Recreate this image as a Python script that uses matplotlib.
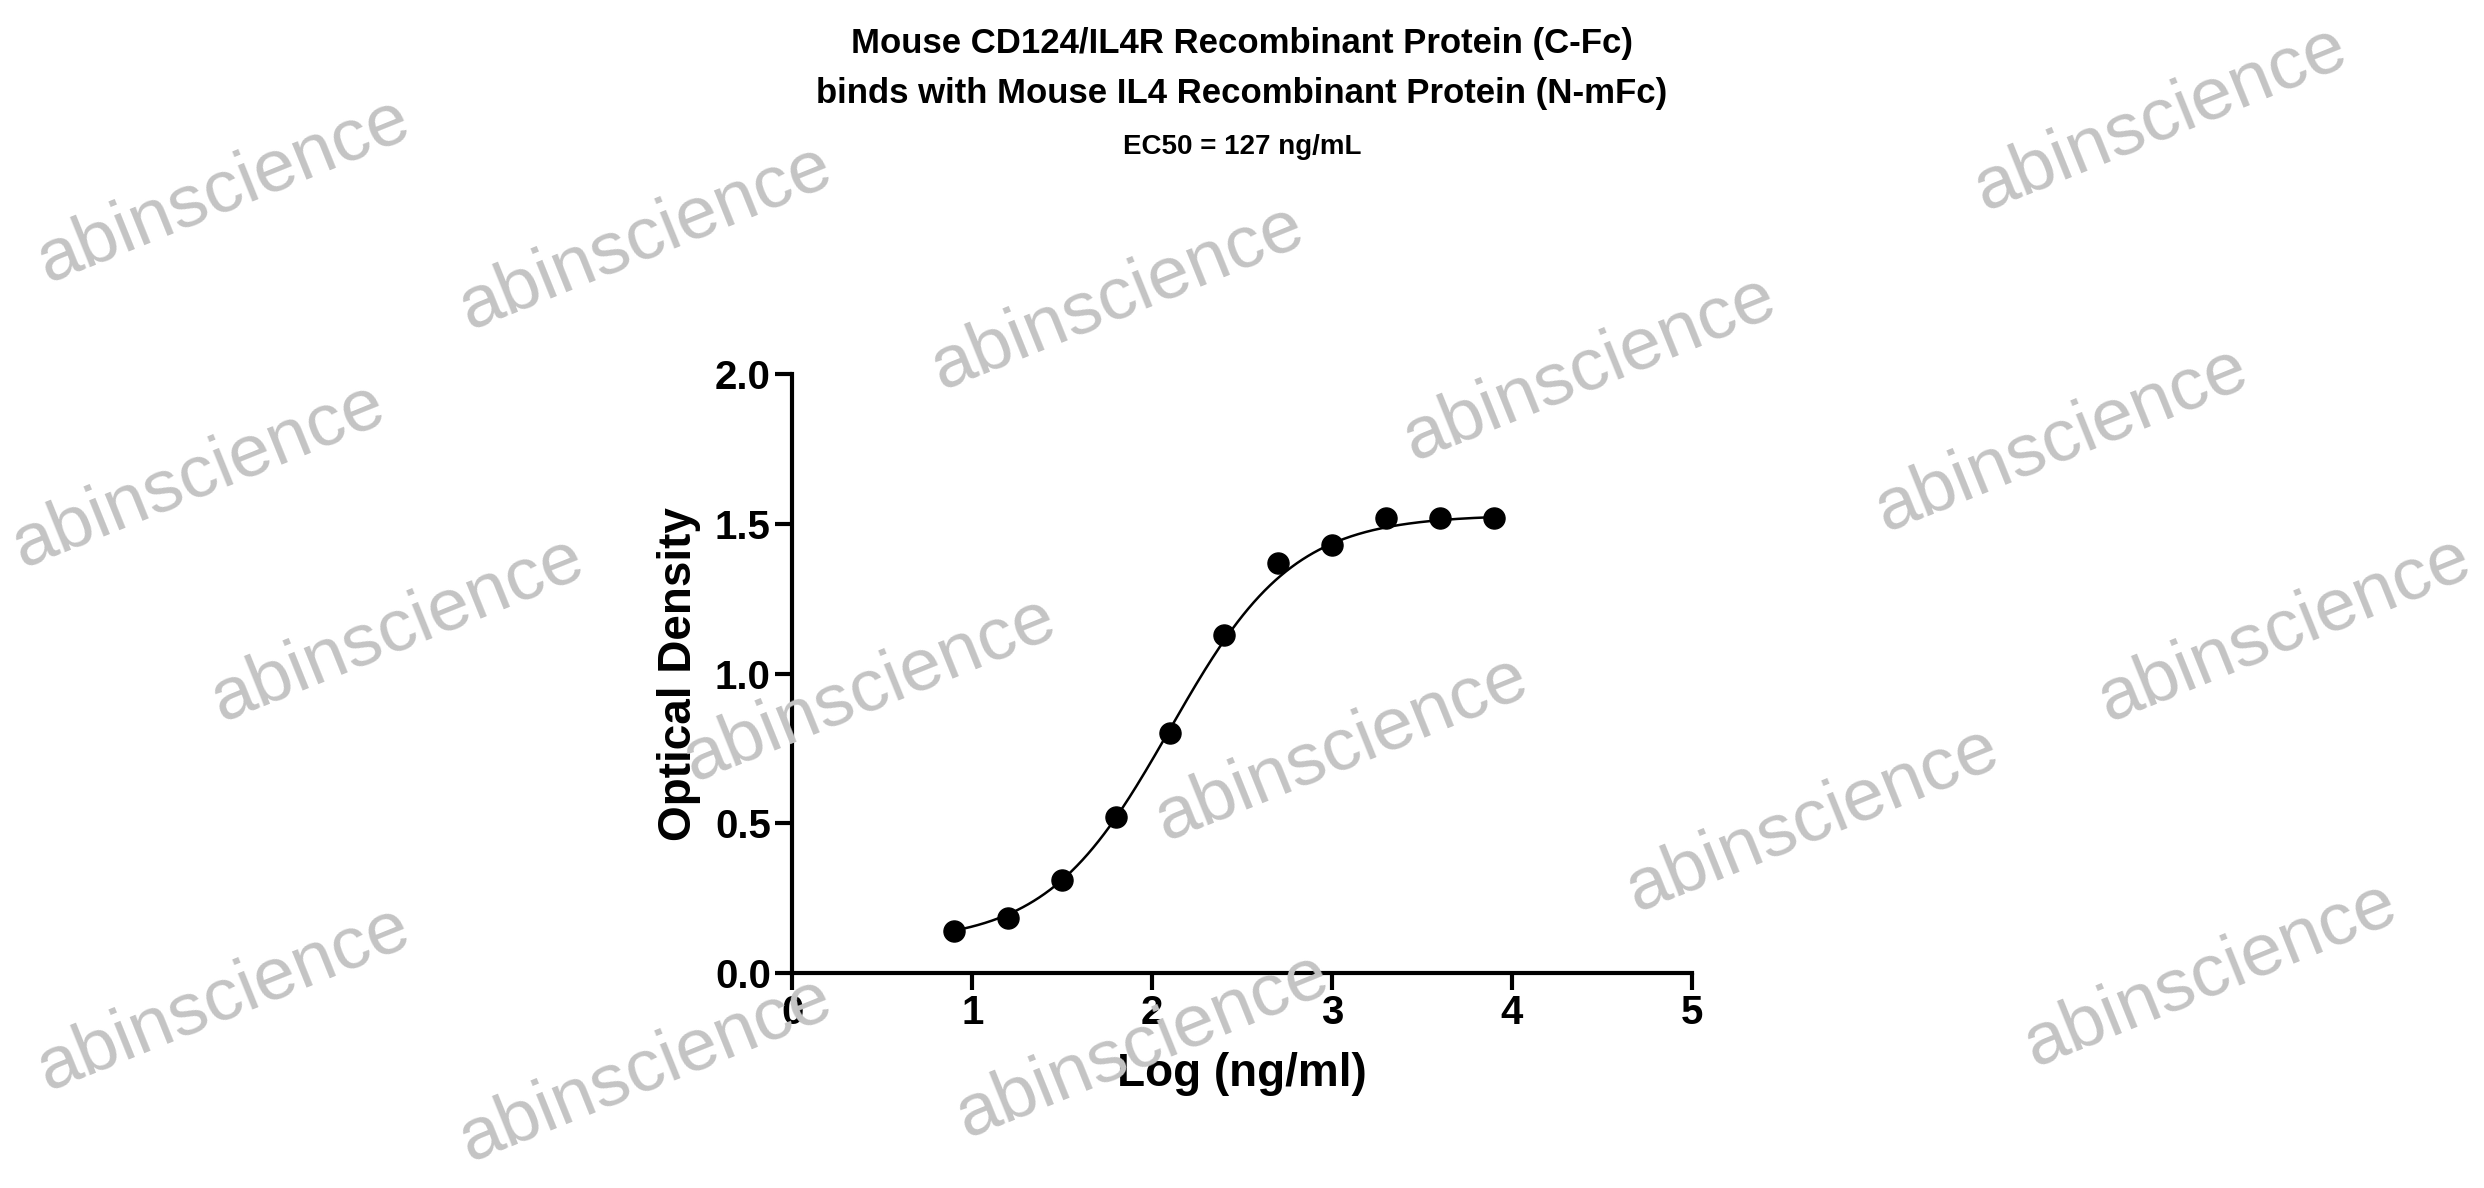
import numpy as np
import matplotlib
matplotlib.use("Agg")
import matplotlib.pyplot as plt

log_conc = [0.9, 1.2, 1.5, 1.8, 2.1, 2.4, 2.7, 3.0, 3.3, 3.6, 3.9]
od = [0.14, 0.185, 0.31, 0.52, 0.80, 1.13, 1.37, 1.43, 1.52, 1.52, 1.52]
bottom, top, logec50, hill = 0.10, 1.53, 2.10, 1.27

plt.rcParams['font.family'] = ['Liberation Sans', 'DejaVu Sans']
fig = plt.figure(figsize=(24.84, 11.88), dpi=100)

# watermarks (kept inside the figure)
wm = [(0.09, 0.84), (0.26, 0.80), (0.45, 0.75), (0.64, 0.69), (0.83, 0.63),
      (0.87, 0.90), (0.08, 0.60), (0.16, 0.47), (0.35, 0.42), (0.54, 0.37),
      (0.73, 0.31), (0.89, 0.18), (0.92, 0.47), (0.09, 0.16), (0.26, 0.10),
      (0.46, 0.12)]
for x, y in wm:
    fig.text(x, y, "abinscience", fontsize=54, color='#c4c4c4', rotation=22,
             ha='center', va='center', zorder=0)

ax = fig.add_axes([0.319, 0.181, 0.362, 0.504])
ax.patch.set_alpha(0)
xs = np.linspace(0.9, 3.9, 300)
ys = bottom + (top - bottom) / (1 + 10 ** ((logec50 - xs) * hill))
ax.plot(xs, ys, color='black', lw=1.8)
ax.scatter(log_conc, od, s=230, color='black', zorder=3)
ax.set_xlim(0, 5)
ax.set_ylim(0, 2.0)
ax.set_xticks([0, 1, 2, 3, 4, 5])
ax.set_yticks([0, 0.5, 1.0, 1.5, 2.0])
ax.set_yticklabels(['0.0', '0.5', '1.0', '1.5', '2.0'])
for s in ['top', 'right']:
    ax.spines[s].set_visible(False)
for s in ['left', 'bottom']:
    ax.spines[s].set_linewidth(3)
ax.tick_params(width=3, length=12, labelsize=29)
for t in ax.get_xticklabels() + ax.get_yticklabels():
    t.set_fontweight('bold')
ax.set_xlabel('Log (ng/ml)', fontsize=33, fontweight='bold', labelpad=14)
ax.set_ylabel('Optical Density', fontsize=33, fontweight='bold', labelpad=10)

fig.text(0.5, 0.963, 'Mouse CD124/IL4R Recombinant Protein (C-Fc)', ha='center', va='center',
         fontsize=25, fontweight='bold')
fig.text(0.5, 0.921, 'binds with Mouse IL4 Recombinant Protein (N-mFc)', ha='center', va='center',
         fontsize=25, fontweight='bold')
fig.text(0.5, 0.876, 'EC50 = 127 ng/mL', ha='center', va='center', fontsize=20, fontweight='bold')

fig.savefig('out.png', dpi=100)
